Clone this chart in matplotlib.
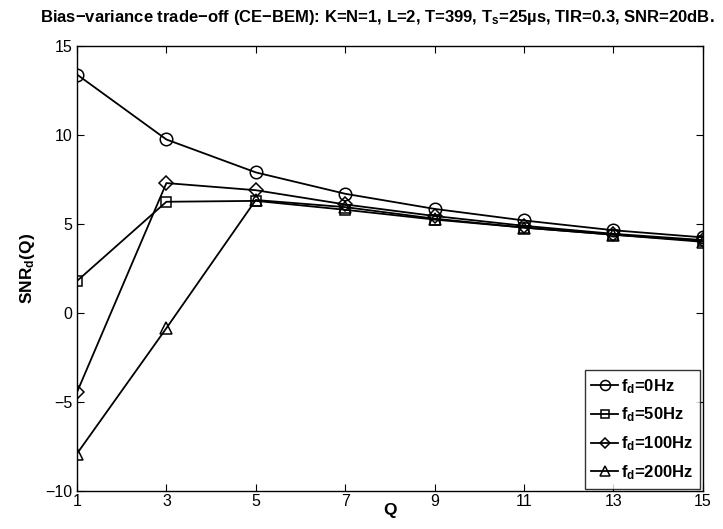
import matplotlib
matplotlib.use("Agg")
import matplotlib.pyplot as plt

plt.rcParams['font.family'] = ['Liberation Sans', 'DejaVu Sans']
plt.rcParams['font.weight'] = 'bold'
plt.rcParams['mathtext.fontset'] = 'custom'
plt.rcParams['mathtext.rm'] = 'Liberation Sans:bold'
plt.rcParams['mathtext.it'] = 'Liberation Sans:bold'
plt.rcParams['mathtext.bf'] = 'Liberation Sans:bold'
plt.rcParams['mathtext.default'] = 'bf'

Q = [1, 3, 5, 7, 9, 11, 13, 15]
snr_0hz = [13.4, 9.75, 7.9, 6.7, 5.85, 5.2, 4.65, 4.25]
snr_50hz = [1.8, 6.25, 6.3, 5.8, 5.25, 4.8, 4.4, 4.05]
snr_100hz = [-4.45, 7.3, 6.9, 6.1, 5.45, 4.9, 4.45, 4.1]
snr_200hz = [-7.9, -0.85, 6.35, 5.95, 5.3, 4.8, 4.4, 4.0]

series = [
    (snr_0hz, 'o', 9, 'f$_d$=0Hz'),
    (snr_50hz, 's', 7, 'f$_d$=50Hz'),
    (snr_100hz, 'D', 7, 'f$_d$=100Hz'),
    (snr_200hz, '^', 9, 'f$_d$=200Hz'),
]

fig = plt.figure(figsize=(7.23, 5.29), dpi=100)
ax = fig.add_axes([0.1065, 0.0718, 0.8655, 0.8412])

for vals, mk, ms, lab in series:
    ax.plot(Q, vals, color='black', lw=1.3, marker=mk, markersize=ms,
            markerfacecolor='none', markeredgewidth=1.1, label=lab)

ax.set_xlim(1, 15)
ax.set_ylim(-10, 15)
ax.set_xticks(Q)
ax.set_yticks([-10, -5, 0, 5, 10, 15])
ax.tick_params(direction='in', length=5, labelsize=11.5, top=True, right=True, width=0.8)
ax.tick_params(axis='x', pad=2)
for t in ax.get_xticklabels() + ax.get_yticklabels():
    t.set_fontweight('normal')
for sp in ax.spines.values():
    sp.set_linewidth(1.0)

ax.set_xlabel('Q', fontsize=12.5, fontweight='bold', labelpad=-4)
ax.set_ylabel('SNR$_d$(Q)', fontsize=12.5, fontweight='bold', labelpad=6)
ax.set_title('Bias\u2212variance trade\u2212off (CE\u2212BEM): K=N=1, L=2, T=399, T$_s$=25\u00b5s, TIR=0.3, SNR=20dB.',
             fontsize=12, fontweight='bold', pad=17, x=0.48)

leg = ax.legend(loc='lower right', prop={'weight': 'bold', 'size': 12},
                frameon=True, fancybox=False, edgecolor='black', handlelength=1.6,
                handletextpad=0.2, borderpad=0.4, labelspacing=0.6,
                borderaxespad=0.15, markerscale=0.8)
leg.get_frame().set_linewidth(1.0)

fig.savefig('out.png', dpi=100)
